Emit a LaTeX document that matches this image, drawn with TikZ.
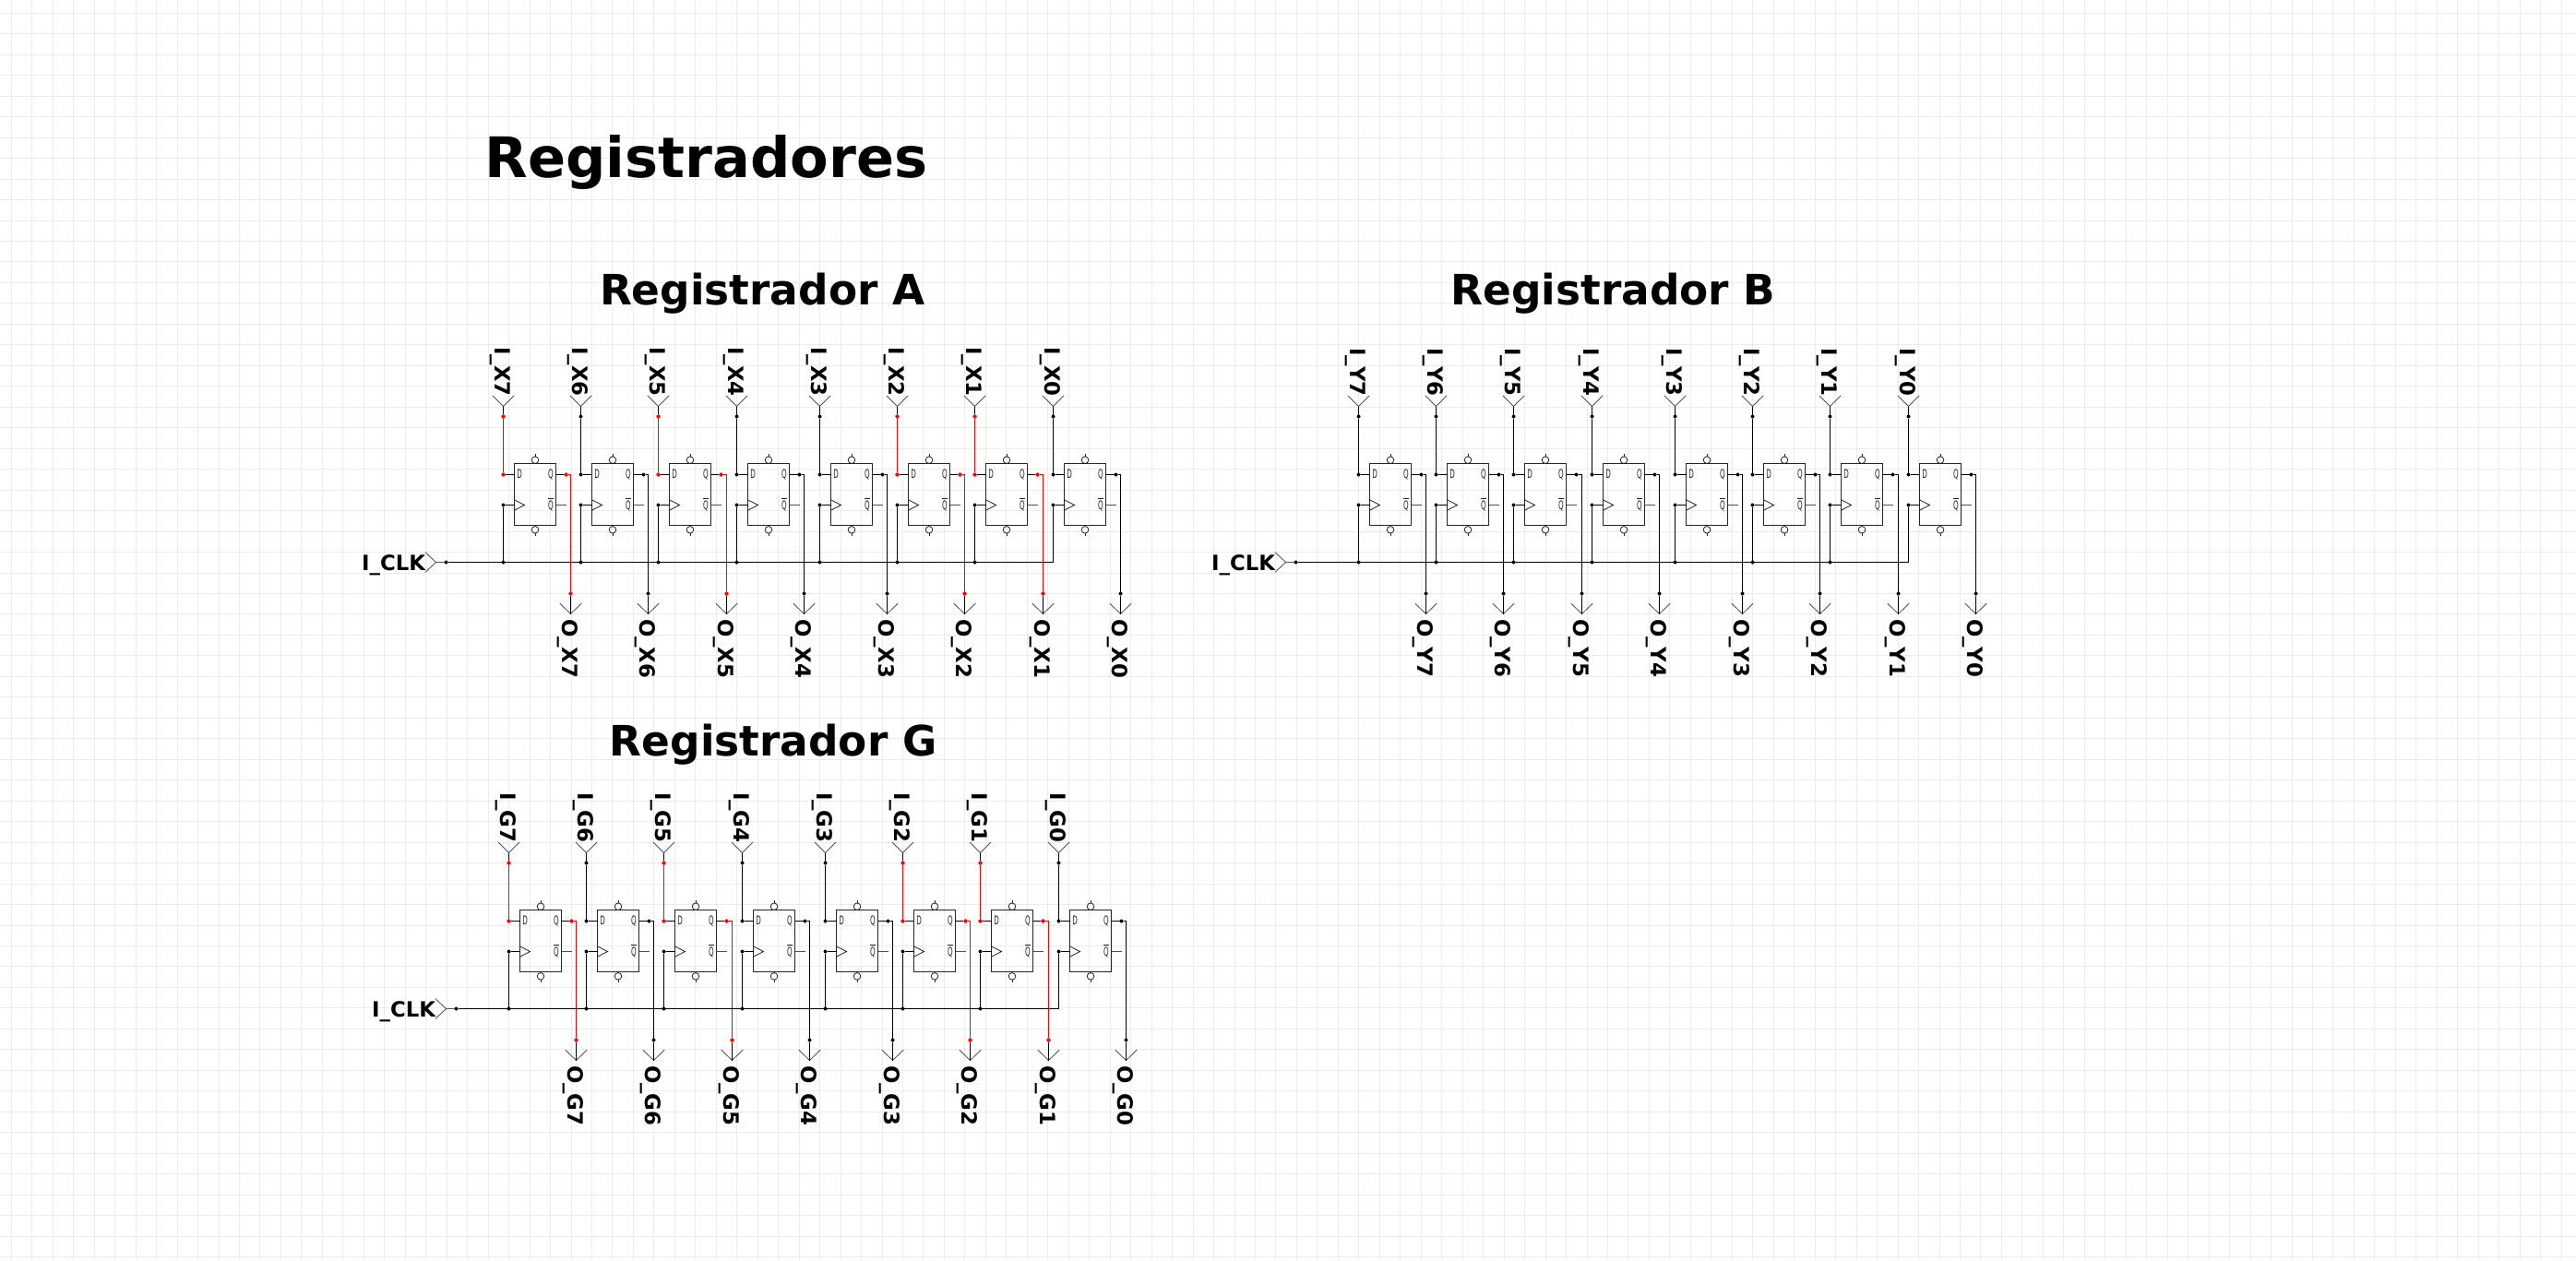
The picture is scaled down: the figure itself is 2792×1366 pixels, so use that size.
\documentclass[tikz,border=0pt]{standalone}
\usepackage{fontspec}
\setmainfont{DejaVu Sans}
\definecolor{gridc}{HTML}{EBEBEB}
\definecolor{pinc}{HTML}{505050}
\definecolor{symc}{HTML}{222222}
\tikzset{
  blackwire/.style={draw=black,line width=.5pt},
  redwire/.style={draw=red,line width=.5pt},
  pinline/.style={draw=pinc,line width=.42pt},
  symline/.style={draw=symc,line width=.4pt},
  ffbox/.style={draw=black!85,line width=.5pt,inner sep=0pt,outer sep=0pt,minimum width=22.5pt,minimum height=33.5pt,anchor=north west},
  blackdot/.style={circle,fill=black,inner sep=0pt,outer sep=0pt,minimum size=2pt},
  reddot/.style={circle,fill=red,inner sep=0pt,outer sep=0pt,minimum size=2.2pt},
  fflabel/.style={inner sep=0pt,outer sep=0pt,anchor=base,text=symc,font=\fontsize{6.5}{7}\selectfont},
  pinlabel/.style={inner sep=0pt,outer sep=0pt,font=\fontsize{11.4}{13}\selectfont\bfseries},
  maintitle/.style={inner sep=0pt,outer sep=0pt,anchor=base west,font=\fontsize{30.3}{36}\selectfont\bfseries},
  subtitle/.style={inner sep=0pt,outer sep=0pt,anchor=base west,font=\fontsize{22.7}{27}\selectfont\bfseries},
}
% name, letter, dx, dy, clock dx, red flag
\newcommand{\regbank}[6]{%
\begin{scope}[shift={(#3,#4)}]
\foreach \b/\xi/\xo in {7/545.5/618.5,6/629.5/702.5,5/713.5/787.5,4/798.5/871.5,3/888.5/961.5,2/972.5/1045.5,1/1056.5/1130.5,0/1141.5/1214.5}{
  \pgfmathsetmacro{\xb}{\xi+12}
  \pgfmathtruncatemacro{\isred}{#6*((\b==7)+(\b==5)+(\b==2)+(\b==1))}
  \ifnum\isred=1 \def\wc{redwire}\def\dc{reddot}\else \def\wc{blackwire}\def\dc{blackdot}\fi
  \node[ffbox] (#1-box-\b) at (\xb,502.5) {};
  \coordinate (#1-tipi-\b) at (\xi,440.5);
  \coordinate (#1-tipo-\b) at (\xo,665.5);
  \node[\dc] (#1-dt-\b) at (\xi,451.5) {};
  \node[\dc] (#1-dd-\b) at (\xi,514.5) {};
  \node[blackdot] (#1-cd-\b) at (\xi,547.5) {};
  \node[\dc] (#1-dq-\b) at (\xb+56,514.5) {};
  \node[\dc] (#1-do-\b) at (\xo,643.5) {};
  \coordinate (#1-nq-\b) at (\xb+56,547.5);
  % pins
  \draw[pinline] (#1-tipi-\b) +(-11.7,-11.7) -- (#1-tipi-\b) -- +(11.7,-11.7);
  \draw[pinline] (#1-tipo-\b) +(-11.7,-11.4) -- (#1-tipo-\b) -- +(11.7,-11.4);
  % wires
  \draw[blackwire] (#1-tipi-\b) -- (#1-dt-\b);
  \draw[\wc] (#1-dt-\b) -- (#1-dd-\b);
  \draw[blackwire] (#1-dd-\b) -- (#1-dd-\b -| #1-box-\b.west);
  \draw[blackwire] (#1-box-\b.east |- #1-dq-\b) -- (#1-dq-\b);
  \draw[\wc] (#1-dq-\b) -| (#1-do-\b);
  \draw[blackwire] (#1-do-\b) -- (#1-tipo-\b);
  \draw[blackwire] (#1-cd-\b) -- (#1-cd-\b -| #1-box-\b.west);
  \draw[pinline] (#1-box-\b.east |- #1-nq-\b) -- (#1-nq-\b);
  % flip-flop symbols
  \draw[symline] (#1-cd-\b -| #1-box-\b.west) ++(0,-5.7) -- ++(11,5.7) -- ++(-11,5.7);
  \draw[symline] (\xb+22.5,498.7) circle[radius=3.8];
  \draw[symline] (\xb+22.5,494.9) -- (\xb+22.5,491.5);
  \draw[symline] (\xb+22.5,574.3) circle[radius=3.8];
  \draw[symline] (\xb+22.5,578.1) -- (\xb+22.5,581);
  \node[fflabel] (#1-ld-\b) at (\xb+5.7,518.7) {\scalebox{.55}[1]{D}};
  \node[fflabel] (#1-lq-\b) at (\xb+39.5,518.7) {\scalebox{.55}[1]{Q}};
  \node[fflabel] (#1-ln-\b) at (\xb+39.5,552.5) {\scalebox{.55}[1]{$\overline{\mbox{Q}}$}};
  % labels
  \node[pinlabel,rotate=-90,anchor=base east] (#1-li-\b) at (\xi-8.7,429.5) {I\_#2\b};
  \node[pinlabel,rotate=-90,anchor=base west] (#1-lo-\b) at (\xo-8.7,671) {O\_#2\b};
}
% clock
\coordinate (#1-tipc) at (472.5+#5,609.5);
\node[blackdot] (#1-clk) at (483.5+#5,609.5) {};
\draw[pinline] (#1-tipc) +(-11.7,-11) -- (#1-tipc) -- +(-11.7,11);
\draw[pinline] (#1-tipc) -- (#1-clk);
\node[pinlabel,anchor=base east] (#1-lclk) at (461+#5,618.3) {I\_CLK};
\foreach \b/\xi in {7/545.5,6/629.5,5/713.5,4/798.5,3/888.5,2/972.5,1/1056.5}{
  \node[blackdot] (#1-cb-\b) at (\xi,609.5) {};
  \draw[blackwire] (#1-cb-\b) -- (#1-cd-\b);
}
\coordinate (#1-cb-0) at (1141.5,609.5);
\draw[blackwire] (#1-clk) -- (#1-cb-0) -- (#1-cd-0);
\end{scope}
}
\begin{document}
\begin{tikzpicture}[x=.5pt,y=-.5pt]
\path[use as bounding box,fill=white] (0,0) rectangle (2792,1366);
\foreach \i in {0,...,124}{
  \draw[gridc,line width=.5pt] ({12.3+22.47*\i},0) -- ({12.3+22.47*\i},1366);
}
\foreach \i in {0,...,60}{
  \draw[gridc,line width=.5pt] (0,{14.3+22.47*\i}) -- (2792,{14.3+22.47*\i});
}
\node[maintitle] (title) at (525.5,192.3) {Registradores};
\node[subtitle] (ta) at (650,330.7) {Registrador A};
\node[subtitle] (tb) at (1572.5,330.7) {Registrador B};
\node[subtitle] (tg) at (660.8,819.3) {Registrador G};
\regbank{A}{X}{0}{0}{0}{1}
\regbank{B}{Y}{927}{0}{-6}{0}
\regbank{G}{G}{6}{484}{5}{1}
\end{tikzpicture}
\end{document}
